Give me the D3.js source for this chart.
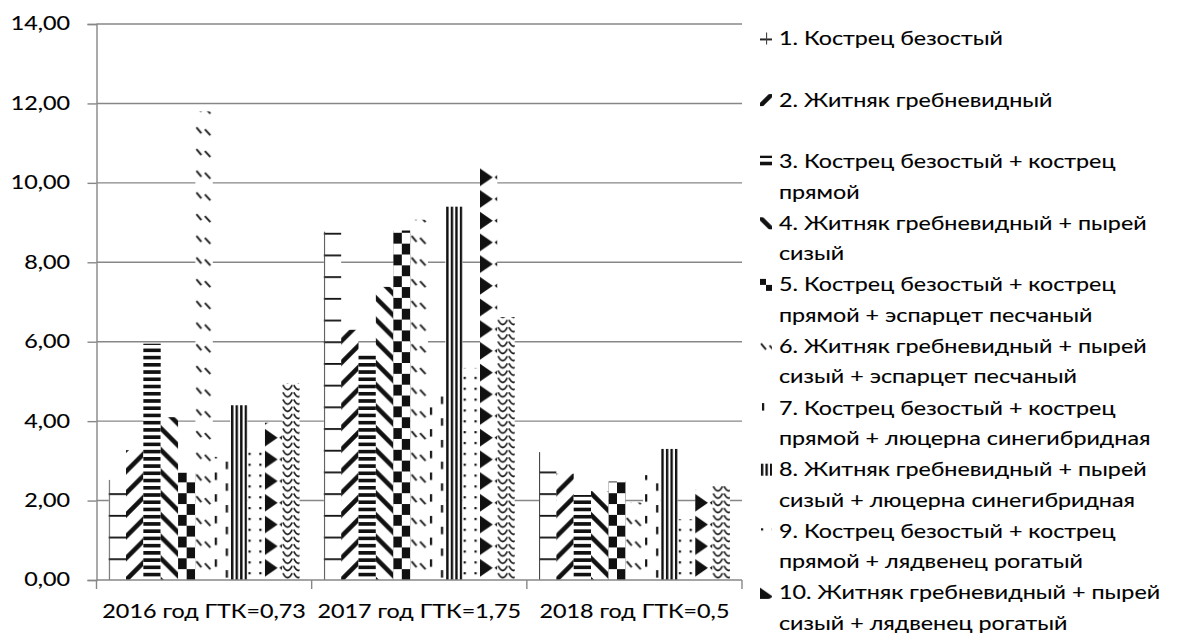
<!DOCTYPE html>
<html>
<head>
<meta charset="utf-8">
<script src="https://cdn.jsdelivr.net/npm/d3@7"></script>
<style>
  body { margin: 0; background: #fff; }
  svg { display: block; }
  text { font-family: Lato, "Open Sans", sans-serif; fill: #000; stroke: #000; stroke-width: 0.12px; }
</style>
</head>
<body>
<svg id="chart" width="1179" height="635"></svg>
<script>
// Years with the hydrothermal coefficient (ГТК)
const categories = ["2016 год ГТК=0,73", "2017 год ГТК=1,75", "2018 год ГТК=0,5"];

// Legend labels (line breaks as they wrap in the legend column)
const seriesNames = [
  "1. Кострец безостый",
  "2. Житняк гребневидный",
  "3. Кострец безостый + кострец\nпрямой",
  "4. Житняк гребневидный + пырей\nсизый",
  "5. Кострец безостый + кострец\nпрямой + эспарцет песчаный",
  "6. Житняк гребневидный + пырей\nсизый + эспарцет песчаный",
  "7. Кострец безостый + кострец\nпрямой + люцерна синегибридная",
  "8. Житняк гребневидный + пырей\nсизый + люцерна синегибридная",
  "9. Кострец безостый + кострец\nпрямой + лядвенец рогатый",
  "10. Житняк гребневидный + пырей\nсизый + лядвенец рогатый"
];

// One array per variant: values for 2016, 2017, 2018
const variant1  = [2.52, 8.77, 3.22];
const variant2  = [3.27, 6.30, 2.68];
const variant3  = [5.95, 5.72, 2.14];
const variant4  = [4.10, 7.38, 2.24];
const variant5  = [2.70, 8.80, 2.48];
const variant6  = [11.80, 9.07, 1.95];
const variant7  = [3.10, 4.66, 2.64];
const variant8  = [4.40, 9.40, 3.30];
const variant9  = [3.32, 5.34, 1.53];
const variant10 = [3.96, 10.38, 2.27];
const variant11 = [4.96, 6.62, 2.37];
const seriesValues = [variant1, variant2, variant3, variant4, variant5, variant6,
                      variant7, variant8, variant9, variant10, variant11];

const yTicks = [0, 2, 4, 6, 8, 10, 12, 14];

// ---- layout ----
const plot = { left: 96.5, right: 742, top: 24, bottom: 580 };
const SX = 1.26;         // horizontal stretch applied to all text
const FONT = 18.5;
const GRID = "#878787";

const svg = d3.select("#chart");
const defs = svg.append("defs");

const x0 = d3.scaleBand().domain(categories).range([plot.left, plot.right]).paddingInner(0).paddingOuter(0);
const seriesIdx = d3.range(seriesValues.length);
const x1 = d3.scaleBand().domain(seriesIdx).range([0, x0.bandwidth()]).paddingInner(0).paddingOuter(0.7);
const y = d3.scaleLinear().domain([0, 14]).range([plot.bottom, plot.top]);

const locale = d3.formatLocale({ decimal: ",", thousands: " ", grouping: [3], currency: ["", ""] });
const fmt = locale.format(".2f");

// ---- monochrome fill patterns (tiles anchored at each bar's lower-left corner) ----
const P = 21.7;
function pattern(id, w, h, draw) {
  const p = defs.append("pattern").attr("id", id)
    .attr("patternUnits", "userSpaceOnUse").attr("width", w).attr("height", h);
  p.append("rect").attr("width", w).attr("height", h).attr("fill", "#fff");
  draw(p);
}
const ink = "#111";
pattern("pat0", P, P, p => {               // grid
  p.append("rect").attr("x", 0).attr("y", 0).attr("width", P).attr("height", 1.8).attr("fill", ink);
  p.append("rect").attr("x", 0).attr("y", 0).attr("width", 1.1).attr("height", P).attr("fill", "#444");
});
pattern("pat1", P, P, p => {               // wide upward diagonal
  p.append("path").attr("d", `M-3,${P + 3}L${P + 3},-3M-3,3L3,-3M${P - 3},${P + 3}L${P + 3},${P - 3}`)
    .attr("stroke", ink).attr("stroke-width", 4.6);
});
pattern("pat2", P, P / 3, p => {           // horizontal stripes
  p.append("rect").attr("width", P).attr("height", P / 6).attr("fill", ink);
});
pattern("pat3", P, P, p => {               // wide downward diagonal
  p.append("path").attr("d", `M-3,-3L${P + 3},${P + 3}M${P - 3},-3L${P + 3},3M-3,${P - 3}L3,${P + 3}`)
    .attr("stroke", ink).attr("stroke-width", 4.6);
});
pattern("pat4", 17.2, P, p => {            // checkerboard
  p.append("rect").attr("x", 0).attr("y", 0).attr("width", 8.6).attr("height", P / 2).attr("fill", ink);
  p.append("rect").attr("x", 8.6).attr("y", P / 2).attr("width", 8.6).attr("height", P / 2).attr("fill", ink);
});
pattern("pat5", P, P, p => {               // dashed downward diagonal
  p.append("path").attr("d", "M1,3L6,9M9.5,5L15,11")
    .attr("stroke", "#222").attr("stroke-width", 2);
});
pattern("pat6", P, P, p => {               // dashed vertical
  p.append("rect").attr("x", 2).attr("y", 1).attr("width", 2.2).attr("height", 7.5).attr("fill", ink);
  p.append("rect").attr("x", 13).attr("y", 1 + P / 2).attr("width", 2.2).attr("height", 7.5).attr("fill", ink);
});
pattern("pat7", 4.55, P, p => {            // narrow vertical lines
  p.append("rect").attr("x", 0.9).attr("width", 2.4).attr("height", P).attr("fill", ink);
});
pattern("pat8", P / 2, P / 2, p => {       // dots
  p.append("rect").attr("x", 1).attr("y", 3).attr("width", 2.2).attr("height", 2.2).attr("fill", ink);
});
pattern("pat9", P, P, p => {               // triangles
  p.append("path").attr("d", "M0,0.8L12.8,9.6L0,18.4Z").attr("fill", ink);
  p.append("path").attr("d", "M17.6,7.2L14.6,9.6L17.6,12Z").attr("fill", ink);
});
pattern("pat10", P / 2, P / 3, p => {      // scallops
  p.append("path").attr("d", `M0.8,0.4Q${P / 4},9.5 ${P / 2 - 0.8},0.4`)
    .attr("fill", "none").attr("stroke", "#1a1a1a").attr("stroke-width", 1.7);
});

// ---- gridlines ----
svg.append("g").selectAll("line").data(yTicks.filter(t => t > 0)).join("line")
  .attr("x1", plot.left).attr("x2", plot.right)
  .attr("y1", d => y(d)).attr("y2", d => y(d))
  .attr("stroke", GRID).attr("stroke-width", 1.4);

// ---- bars ----
const barG = svg.append("g");
categories.forEach((cat, ci) => {
  seriesIdx.forEach(si => {
    const v = seriesValues[si][ci];
    const bx = x0(cat) + x1(si);
    const g = barG.append("g").attr("transform", `translate(${bx},${y(0)})`);
    g.append("rect")
      .attr("x", 0).attr("y", y(v) - y(0))
      .attr("width", x1.bandwidth()).attr("height", y(0) - y(v))
      .attr("fill", `url(#pat${si})`);
  });
});

// ---- axes ----
const axisY = d3.axisLeft(y).tickValues(yTicks).tickSize(9).tickPadding(12).tickFormat(fmt);
const gy = svg.append("g").attr("transform", `translate(${plot.left},0)`).call(axisY);
gy.select(".domain").attr("stroke", GRID).attr("stroke-width", 1.4);
gy.selectAll(".tick line").attr("stroke", GRID).attr("stroke-width", 1.4);
gy.selectAll(".tick text")
  .attr("font-size", FONT).attr("font-family", "Lato, sans-serif").attr("fill", "#000")
  .attr("transform", `scale(${SX},1)`);

const gx = svg.append("g");
gx.append("line").attr("x1", plot.left).attr("x2", plot.right)
  .attr("y1", y(0)).attr("y2", y(0)).attr("stroke", GRID).attr("stroke-width", 1.4);
const bounds = categories.map(c => x0(c)).concat([plot.right]);
gx.selectAll("line.tk").data(bounds).join("line").attr("class", "tk")
  .attr("x1", d => d).attr("x2", d => d)
  .attr("y1", y(0)).attr("y2", y(0) + 9)
  .attr("stroke", GRID).attr("stroke-width", 1.4);
gx.selectAll("text").data(categories).join("text")
  .attr("transform", d => `translate(${x0(d) + x0.bandwidth() / 2},612) scale(${SX},1)`)
  .attr("text-anchor", "middle").attr("dy", "0.35em")
  .attr("font-size", FONT)
  .text(d => d);

// ---- legend ----
const legTop = 38.5, legStep = 61.6, lineH = 30.5;
const swX = 766, txtX = 779;
const leg = svg.append("g");
seriesNames.forEach((name, i) => {
  const cy = legTop + i * legStep;
  // solid-line patterns read best centred on the tile corner; sparse ones from the tile's top-left
  const centred = i < 5;
  const sw = leg.append("g").attr("transform", centred ? `translate(${swX},${cy})` : `translate(${swX - 6},${cy - 6})`);
  sw.append("rect")
    .attr("x", centred ? -6 : 0).attr("y", centred ? -6 : 0)
    .attr("width", 12).attr("height", 12)
    .attr("fill", `url(#pat${i})`);
  name.split("\n").forEach((line, li) => {
    leg.append("text")
      .attr("transform", `translate(${txtX},${cy + li * lineH}) scale(${SX},1)`)
      .attr("dy", "0.35em").attr("font-size", FONT)
      .text(line);
  });
});
</script>
</body>
</html>
